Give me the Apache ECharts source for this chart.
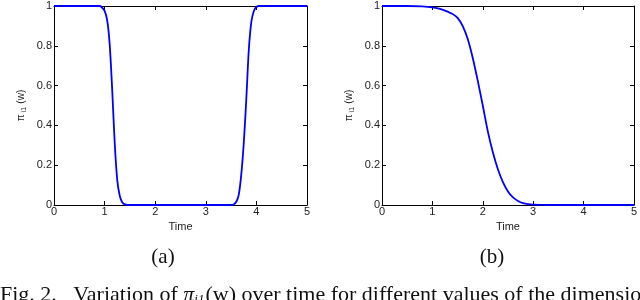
<!DOCTYPE html>
<html><head><meta charset="utf-8">
<script src="https://cdn.jsdelivr.net/npm/echarts@6/dist/echarts.min.js"></script>
<style>html,body{margin:0;padding:0;background:#fff}#c{width:640px;height:300px}</style>
</head><body><div id="c"></div>
<script>
// Panel (a) data: time, value
const timeA = [0, 0.5, 0.9, 0.94, 1.0, 1.05, 1.1, 1.15, 1.2, 1.25, 1.3, 1.35, 1.4, 1.45, 1.5, 2.0, 2.5, 3.0, 3.5, 3.55, 3.6, 3.65, 3.7, 3.75, 3.8, 3.85, 3.9, 3.95, 4.0, 4.05, 4.5, 5.0];
const valA  = [1, 1, 1, 0.995, 0.975, 0.93, 0.81, 0.58, 0.31, 0.125, 0.045, 0.013, 0.003, 0, 0, 0, 0, 0, 0, 0.003, 0.015, 0.05, 0.15, 0.31, 0.53, 0.78, 0.92, 0.975, 0.995, 1, 1, 1];
// Panel (b) data
const timeB = [0, 0.5, 0.8, 1.0, 1.2, 1.4, 1.5, 1.6, 1.7, 1.8, 1.9, 2.0, 2.1, 2.2, 2.3, 2.4, 2.5, 2.6, 2.7, 2.8, 2.9, 3.0, 3.2, 3.5, 4.0, 5.0];
const valB  = [1, 1, 0.998, 0.993, 0.982, 0.96, 0.94, 0.9, 0.835, 0.74, 0.625, 0.5, 0.37, 0.265, 0.18, 0.115, 0.068, 0.038, 0.02, 0.009, 0.004, 0.0015, 0.0004, 0, 0, 0];
const xTicks = [0, 1, 2, 3, 4, 5];
const yTicks = [0, 0.2, 0.4, 0.6, 0.8, 1];
const panelLabels = ['(a)', '(b)'];
const xName = 'Time';

const font = 'Liberation Sans, Arial, sans-serif';
const serif = 'Liberation Serif, Times New Roman, serif';
function xAxes(gi) {
  const base = {type:'value', gridIndex: gi, min: 0, max: 5, interval: 1,
    axisLine:{show:true, onZero:false, lineStyle:{color:'#000', width:1}},
    axisTick:{show:true, inside:true, length:4, lineStyle:{color:'#000'}},
    splitLine:{show:false}};
  return [
    Object.assign({}, base, {position:'bottom', name: xName, nameLocation:'middle', nameGap: 14,
      nameTextStyle:{fontFamily:font, fontSize:11, color:'#222'},
      axisLabel:{fontFamily:font, fontSize:11, color:'#222', margin:1}}),
    Object.assign({}, base, {position:'top', axisLabel:{show:false}})
  ];
}
function yAxes(gi) {
  const base = {type:'value', gridIndex: gi, min: 0, max: 1, interval: 0.2,
    axisLine:{show:true, onZero:false, lineStyle:{color:'#000', width:1}},
    axisTick:{show:true, inside:true, length:4, lineStyle:{color:'#000'}},
    splitLine:{show:false}};
  return [
    Object.assign({}, base, {position:'left', name:'{p|π}{s| i1} {p|(w)}', nameLocation:'middle', nameGap: 26, nameRotate: 90,
      nameTextStyle:{rich:{p:{fontFamily:font, fontSize:10, color:'#222'}, s:{fontFamily:font, fontSize:7, color:'#222', verticalAlign:'bottom', padding:[6,0,0,0]}}},
      axisLabel:{fontFamily:font, fontSize:11, color:'#222', margin:2, formatter: v => String(Math.round(v*10)/10)}}),
    Object.assign({}, base, {position:'right', axisLabel:{show:false}})
  ];
}
const chart = echarts.init(document.getElementById('c'), null, {renderer:'canvas'});
chart.setOption({
  animation:false,
  backgroundColor:'#fff',
  grid:[{left:54, right:333, top:6, bottom:95}, {left:382, right:5, top:6, bottom:95}],
  xAxis:[...xAxes(0), ...xAxes(1)],
  yAxis:[...yAxes(0), ...yAxes(1)],
  series:[
    {type:'line', xAxisIndex:0, yAxisIndex:0, data: timeA.map((t,i)=>[t, valA[i]]), showSymbol:false, smooth:0.3, lineStyle:{color:'#0000ff', width:1.8}},
    {type:'line', xAxisIndex:2, yAxisIndex:2, data: timeB.map((t,i)=>[t, valB[i]]), showSymbol:false, smooth:0.3, lineStyle:{color:'#0000ff', width:1.8}}
  ],
  graphic:[
    {type:'text', x:163, y:257, style:{text:panelLabels[0], font:'21px ' + serif, fill:'#111', align:'center', verticalAlign:'middle'}},
    {type:'text', x:492, y:257, style:{text:panelLabels[1], font:'21px ' + serif, fill:'#111', align:'center', verticalAlign:'middle'}},
    {type:'text', x:0, y:284, style:{
      text:'{r|Fig. 2.   Variation of }{i|π}{s|i1}{r|(w) over time for different values of the dimension}',
      rich:{r:{fontFamily:serif, fontSize:22, fill:'#111'}, i:{fontFamily:serif, fontSize:22, fontStyle:'italic', fill:'#111'}, s:{fontFamily:serif, fontSize:13, fontStyle:'italic', fill:'#111', padding:[9,1,0,0]}}}}
  ]
});
</script></body></html>
